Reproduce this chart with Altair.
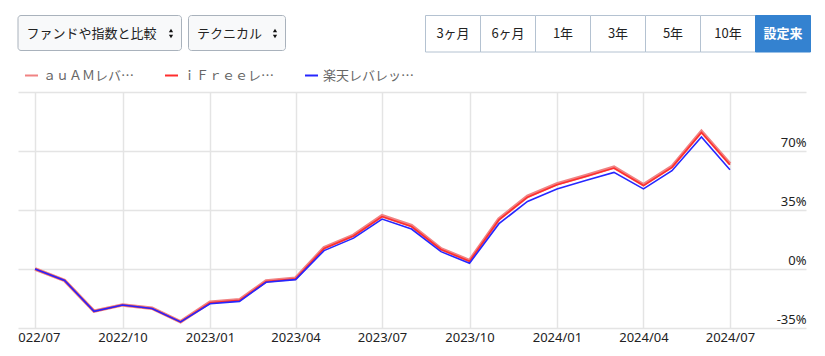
import altair as alt
import pandas as pd

# ---------------- data ----------------
months = [
    "2022-07-01", "2022-08-01", "2022-09-01", "2022-10-01", "2022-11-01", "2022-12-01",
    "2023-01-01", "2023-02-01", "2023-03-01", "2023-04-01", "2023-05-01", "2023-06-01",
    "2023-07-01", "2023-08-01", "2023-09-01", "2023-10-01", "2023-11-01", "2023-12-01",
    "2024-01-01", "2024-02-01", "2024-03-01", "2024-04-01", "2024-05-01", "2024-06-01",
    "2024-07-01",
]
series_names = ["ａｕＡＭレバ…", "ｉＦｒｅｅレ…", "楽天レバレッ…"]
series_colors = ["#f08383", "#ff2e2e", "#2626ff"]
auam = [0, -6.8, -25.0, -21.3, -23.3, -31.3, -19.7, -18.3, -7.1, -5.5, 12.6, 20.0,
        31.6, 25.7, 12.0, 5.0, 29.7, 43.1, 50.5, 55.5, 60.4, 50.0, 60.8, 81.6, 62.4]
ifree = [0, -6.8, -25.1, -21.4, -23.4, -31.4, -20.0, -18.6, -7.4, -5.8, 12.2, 19.6,
         31.1, 25.2, 11.6, 4.6, 29.2, 42.6, 50.0, 55.0, 59.9, 49.5, 60.3, 81.0, 61.8]
rakuten = [0, -6.8, -25.1, -21.4, -23.4, -31.4, -20.6, -19.2, -7.9, -6.3, 10.9, 18.3,
           29.6, 23.7, 10.3, 3.4, 26.9, 40.1, 47.5, 52.6, 57.3, 47.5, 58.3, 78.3, 58.9]
series_values = [auam, ifree, rakuten]

y_ticks = [-35, 0, 35, 70, 105]
x_tick_dates = [(2022, 7), (2022, 10), (2023, 1), (2023, 4), (2023, 7),
                (2023, 10), (2024, 1), (2024, 4), (2024, 7)]

select_labels = ["ファンドや指数と比較", "テクニカル"]
period_labels = ["3ヶ月", "6ヶ月", "1年", "3年", "5年", "10年", "設定来"]

# ---------------- layout constants ----------------
JP = "Noto Sans CJK JP"
LAT = "Noto Sans"
PL, PT = 18, 92           # plot origin in page pixels
W, H = 788, 236


def rx(x):
    return x - PL


def ry(y):
    return y - PT


one = alt.Data(values=[{}])

rows = []
for name, vals in zip(series_names, series_values):
    for d, v in zip(months, vals):
        rows.append({"date": d, "value": v, "series": name})
df = pd.DataFrame(rows)

x_enc = alt.X(
    "date:T",
    scale=alt.Scale(
        type="utc",
        domain=[alt.DateTime(year=2022, month=6, date=13, utc=True),
                alt.DateTime(year=2024, month=9, date=19, utc=True)],
    ),
    axis=alt.Axis(
        values=[alt.DateTime(year=y, month=m, date=1, utc=True) for y, m in x_tick_dates],
        format="%Y/%m",
        title=None,
        domain=False,
        ticks=False,
        labelPadding=3,
        labelFont=LAT,
        labelFontSize=13,
        labelColor="#222222",
        gridColor="#e4e4e4",
        gridWidth=1.5,
        labelBound=False,
        labelFlush=False,
        labelOverlap=False,
        zindex=0,
    ),
)
y_enc = alt.Y(
    "value:Q",
    scale=alt.Scale(domain=[-35, 105], nice=False, zero=False),
    axis=alt.Axis(
        orient="right",
        values=y_ticks,
        labelExpr="datum.value >= 100 ? '' : datum.value + '%'",
        title=None,
        domain=False,
        ticks=False,
        tickSize=0,
        labelPadding=0,
        labelAlign="right",
        labelBaseline="bottom",
        labelOffset=-2,
        labelFont=LAT,
        labelFontSize=13,
        labelColor="#222222",
        gridColor="#e4e4e4",
        gridWidth=1.5,
        zindex=0,
    ),
)

base = alt.Chart(df)
widths = [3.5, 1.6, 1.6]
line_layers = []
for name, col, sw in zip(series_names, series_colors, widths):
    line_layers.append(
        base.transform_filter(alt.datum.series == name)
        .mark_line(strokeWidth=sw, color=col)
        .encode(x=x_enc, y=y_enc)
    )

deco = []

# white mask clipping the first x label at the plot's left edge
deco.append(alt.Chart(one).mark_rect(color="white").encode(
    x=alt.value(-PL), x2=alt.value(0), y=alt.value(H + 2), y2=alt.value(H + 26)))

# select boxes
sel_boxes = [(18, 181.5), (188.5, 285.5)]
for (x0, x1), lab in zip(sel_boxes, select_labels):
    deco.append(alt.Chart(one).mark_rect(
        fill="#f8f9fa", stroke="#a9b2bc", strokeWidth=1, cornerRadius=3).encode(
        x=alt.value(rx(x0)), x2=alt.value(rx(x1)), y=alt.value(ry(15.5)), y2=alt.value(ry(50.5))))
    deco.append(alt.Chart(one).mark_text(
        align="left", baseline="middle", font=JP, fontSize=13, color="#222222").encode(
        x=alt.value(rx(x0 + 8.5)), y=alt.value(ry(33.5)), text=alt.value(lab)))
    ax = x1 - 10.5
    deco.append(alt.Chart(one).mark_point(
        shape="triangle-up", filled=True, color="#111111", size=18, opacity=1).encode(
        x=alt.value(rx(ax)), y=alt.value(ry(30.5))))
    deco.append(alt.Chart(one).mark_point(
        shape="triangle-down", filled=True, color="#111111", size=18, opacity=1).encode(
        x=alt.value(rx(ax)), y=alt.value(ry(36.5))))

# period button group
edges = [425.5, 480.5, 535.5, 590.5, 645.5, 700.5, 755.5, 810.5]
for i, lab in enumerate(period_labels):
    last = i == len(period_labels) - 1
    deco.append(alt.Chart(one).mark_rect(
        fill="#3482d0" if last else "white",
        stroke="#3482d0" if last else "#b4c2d1", strokeWidth=1).encode(
        x=alt.value(rx(edges[i])), x2=alt.value(rx(edges[i + 1])),
        y=alt.value(ry(15.5)), y2=alt.value(ry(52))))
    deco.append(alt.Chart(one).mark_text(
        align="center", baseline="middle", font=JP, fontSize=13,
        fontWeight="bold" if last else "normal",
        color="white" if last else "#222222").encode(
        x=alt.value(rx((edges[i] + edges[i + 1]) / 2)), y=alt.value(ry(33.5)),
        text=alt.value(lab)))

# custom legend
leg_x = [25, 165, 305]
for lx, name, col in zip(leg_x, series_names, series_colors):
    deco.append(alt.Chart(one).mark_rule(color=col, strokeWidth=2).encode(
        x=alt.value(rx(lx)), x2=alt.value(rx(lx + 13)), y=alt.value(ry(75.5))))
    deco.append(alt.Chart(one).mark_text(
        align="left", baseline="middle", font=JP, fontSize=13, color="#666666").encode(
        x=alt.value(rx(lx + 18)), y=alt.value(ry(75.5)), text=alt.value(name)))

chart = alt.layer(*line_layers, *deco).properties(
    width=W, height=H,
    autosize=alt.AutoSizeParams(type="none"),
    padding={"left": PL, "top": PT, "right": 825 - PL - W, "bottom": 356 - PT - H},
    background="white",
).configure_view(strokeWidth=0)

chart.save("out.html", embed_options={"renderer": "svg", "actions": False})
